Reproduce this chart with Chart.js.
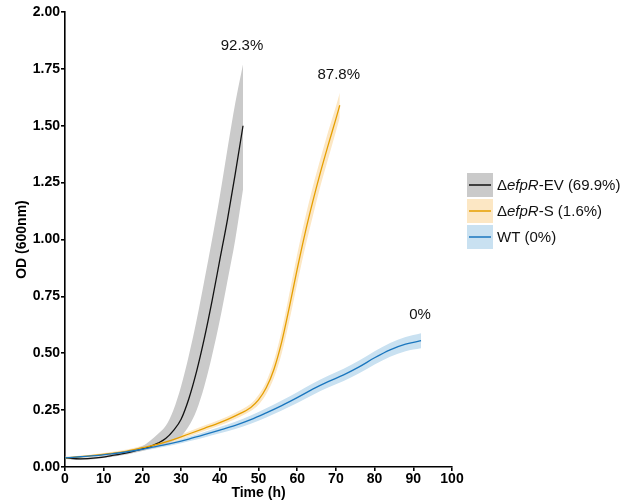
<!DOCTYPE html>
<html>
<head>
<meta charset="utf-8">
<script src="https://cdn.jsdelivr.net/npm/chart.js@4.4.0/dist/chart.umd.min.js"></script>
<style>
  html, body { margin: 0; padding: 0; background: #fff; }
  #wrap { width: 637px; height: 501px; }
</style>
</head>
<body>
<div id="wrap"><canvas id="myChart" width="637" height="501"></canvas></div>
<script>
// growth curves, OD600 vs time (h)
const blackTime  = [0, 4, 8, 12, 16, 20, 22, 24, 26, 28, 30, 32, 34, 36, 38, 40, 42, 44, 46];
const blackOD    = [0.040, 0.036, 0.040, 0.050, 0.062, 0.080, 0.090, 0.105, 0.125, 0.160, 0.210, 0.300, 0.420, 0.565, 0.730, 0.910, 1.090, 1.290, 1.500];
const blackUpper = [0.045, 0.041, 0.045, 0.056, 0.069, 0.092, 0.115, 0.145, 0.180, 0.250, 0.355, 0.490, 0.645, 0.820, 1.000, 1.190, 1.400, 1.600, 1.770];
const blackLower = [0.035, 0.031, 0.035, 0.044, 0.055, 0.070, 0.080, 0.087, 0.098, 0.115, 0.135, 0.180, 0.250, 0.355, 0.490, 0.645, 0.820, 1.000, 1.220];

const orangeTime  = [0, 4, 8, 12, 16, 20, 24, 28, 32, 36, 40, 44, 48, 50, 52, 54, 56, 58, 60, 62, 64, 66, 68, 70, 71];
const orangeOD    = [0.040, 0.045, 0.052, 0.060, 0.070, 0.085, 0.100, 0.120, 0.145, 0.170, 0.195, 0.225, 0.262, 0.295, 0.348, 0.430, 0.550, 0.705, 0.870, 1.025, 1.165, 1.295, 1.415, 1.530, 1.590];
const orangeUpper = [0.044, 0.049, 0.057, 0.066, 0.077, 0.093, 0.109, 0.130, 0.156, 0.182, 0.208, 0.239, 0.278, 0.316, 0.375, 0.468, 0.600, 0.765, 0.935, 1.090, 1.230, 1.355, 1.475, 1.585, 1.645];
const orangeLower = [0.036, 0.041, 0.047, 0.054, 0.063, 0.077, 0.091, 0.110, 0.134, 0.158, 0.182, 0.211, 0.246, 0.274, 0.321, 0.392, 0.500, 0.645, 0.805, 0.960, 1.100, 1.235, 1.355, 1.475, 1.535];

const blueTime  = [0, 4, 8, 12, 16, 20, 24, 28, 32, 36, 40, 44, 48, 52, 56, 60, 64, 68, 72, 76, 80, 84, 88, 92];
const blueOD    = [0.040, 0.045, 0.050, 0.058, 0.067, 0.078, 0.092, 0.106, 0.123, 0.142, 0.162, 0.183, 0.208, 0.238, 0.270, 0.305, 0.342, 0.375, 0.405, 0.440, 0.480, 0.515, 0.540, 0.555];
const blueUpper = [0.044, 0.049, 0.055, 0.063, 0.073, 0.085, 0.100, 0.115, 0.133, 0.154, 0.176, 0.199, 0.226, 0.258, 0.292, 0.329, 0.367, 0.401, 0.432, 0.468, 0.509, 0.545, 0.571, 0.588];
const blueLower = [0.036, 0.041, 0.045, 0.053, 0.061, 0.071, 0.084, 0.097, 0.113, 0.130, 0.148, 0.167, 0.190, 0.218, 0.248, 0.281, 0.317, 0.349, 0.378, 0.412, 0.451, 0.485, 0.509, 0.522];

const xTicks = [0, 10, 20, 30, 40, 50, 60, 70, 80, 90, 100];
const yTicks = [0, 0.25, 0.5, 0.75, 1, 1.25, 1.5, 1.75, 2];
const endLabels = ['92.3%', '87.8%', '0%'];
const legendLabels = [
    [['Δ', false], ['efpR', true], ['-EV (69.9%)', false]],
    [['Δ', false], ['efpR', true], ['-S (1.6%)', false]],
    [['WT (0%)', false]]
];

const FONT = "'Liberation Sans', Arial, sans-serif";
const lineColors = ['#111111', '#E69F00', '#1A76BE'];
const bandColors = ['#CACACA', '#FCE7C4', '#C9E1F1'];

function pts(xs, ys) {
    return xs.map((x, i) => ({x: x, y: ys[i]}));
}

const series = [
    {t: blackTime, m: blackOD, u: blackUpper, l: blackLower},
    {t: orangeTime, m: orangeOD, u: orangeUpper, l: orangeLower},
    {t: blueTime, m: blueOD, u: blueUpper, l: blueLower}
];

const datasets = [];
series.forEach((s, i) => {
    // band: upper filled down to lower (next dataset)
    datasets.push({
        data: pts(s.t, s.u), borderWidth: 0, pointRadius: 0,
        backgroundColor: bandColors[i], fill: '+1', order: 10 + i, cubicInterpolationMode: 'monotone'
    });
    datasets.push({
        data: pts(s.t, s.l), borderWidth: 0, pointRadius: 0,
        backgroundColor: bandColors[i], fill: false, order: 10 + i, cubicInterpolationMode: 'monotone'
    });
});
series.forEach((s, i) => {
    datasets.push({
        data: pts(s.t, s.m), borderColor: lineColors[i], borderWidth: 1.3,
        pointRadius: 0, fill: false, order: 3 - i, cubicInterpolationMode: 'monotone'
    });
});

const extras = {
    id: 'extras',
    afterDraw(chart) {
        const ctx = chart.ctx;
        const xs = chart.scales.x, ys = chart.scales.y;
        ctx.save();
        // percent labels above each curve end
        ctx.fillStyle = '#111';
        ctx.font = '15px ' + FONT;
        ctx.textAlign = 'center';
        ctx.textBaseline = 'middle';
        series.forEach((s, i) => {
            const n = s.t.length - 1;
            const px = xs.getPixelForValue(s.t[n]) - 1;
            const py = ys.getPixelForValue(s.u[n]) - 18;
            ctx.fillText(endLabels[i], px, py);
        });
        // legend
        const bx = 467, by = 173, bw = 26, bh = 24, step = 26;
        legendLabels.forEach((parts, i) => {
            const y = by + i * step;
            ctx.fillStyle = bandColors[i];
            ctx.fillRect(bx, y, bw, bh);
            ctx.strokeStyle = lineColors[i];
            ctx.lineWidth = 1.5;
            ctx.beginPath();
            ctx.moveTo(bx + 2, y + bh / 2);
            ctx.lineTo(bx + bw - 2, y + bh / 2);
            ctx.stroke();
            let tx = bx + bw + 4;
            ctx.fillStyle = '#111';
            ctx.textAlign = 'left';
            parts.forEach(p => {
                ctx.font = (p[1] ? 'italic ' : '') + '15px ' + FONT;
                ctx.fillText(p[0], tx, y + bh / 2 + 1);
                tx += ctx.measureText(p[0]).width;
            });
        });
        ctx.restore();
    }
};

const tickFont = {family: FONT, size: 14, weight: 'bold'};

new Chart(document.getElementById('myChart').getContext('2d'), {
    type: 'line',
    data: {datasets: datasets},
    options: {
        responsive: false,
        animation: false,
        devicePixelRatio: 1,
        layout: {padding: {left: 0, right: 185, top: 12, bottom: 0}},
        plugins: {legend: {display: false}, tooltip: {enabled: false}},
        scales: {
            x: {
                type: 'linear', min: 0, max: 100,
                afterFit: (s) => { s.height = 34; },
                afterBuildTicks: (s) => { s.ticks = xTicks.map(v => ({value: v})); },
                border: {color: '#000', width: 1.6},
                grid: {drawOnChartArea: false, drawTicks: true, tickLength: 4, color: '#000', lineWidth: 1.6},
                ticks: {color: '#000', font: tickFont, padding: 0, maxRotation: 0},
                title: {display: true, text: 'Time (h)', color: '#000', font: tickFont, padding: {top: 0, bottom: -1}}
            },
            y: {
                min: 0, max: 2,
                afterFit: (s) => { s.width = 65; },
                afterBuildTicks: (s) => { s.ticks = yTicks.map(v => ({value: v})); },
                border: {color: '#000', width: 1.6},
                grid: {drawOnChartArea: false, drawTicks: true, tickLength: 4, color: '#000', lineWidth: 1.6},
                ticks: {color: '#000', font: tickFont, padding: 1, callback: (v) => v.toFixed(2)},
                title: {display: true, text: 'OD (600nm)', color: '#000', font: tickFont, padding: {top: 14, bottom: 0}}
            }
        }
    },
    plugins: [extras]
});
</script>
</body>
</html>
